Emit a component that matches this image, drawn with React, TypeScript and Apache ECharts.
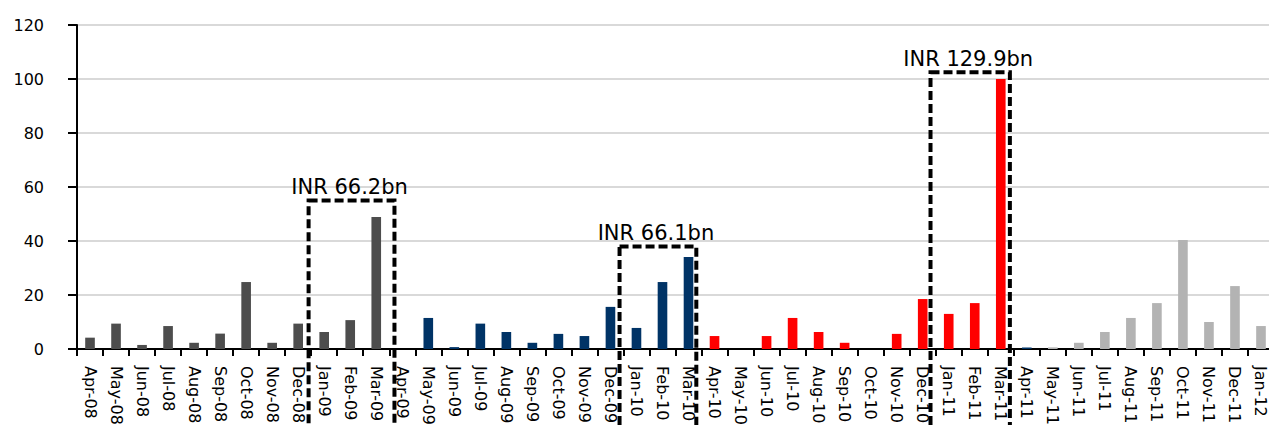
import React, { useEffect, useRef } from "react";
import * as echarts from "echarts";

const months = [
  "Apr-08", "May-08", "Jun-08", "Jul-08", "Aug-08", "Sep-08", "Oct-08", "Nov-08", "Dec-08", "Jan-09", "Feb-09", "Mar-09",
  "Apr-09", "May-09", "Jun-09", "Jul-09", "Aug-09", "Sep-09", "Oct-09", "Nov-09", "Dec-09", "Jan-10", "Feb-10", "Mar-10",
  "Apr-10", "May-10", "Jun-10", "Jul-10", "Aug-10", "Sep-10", "Oct-10", "Nov-10", "Dec-10", "Jan-11", "Feb-11", "Mar-11",
  "Apr-11", "May-11", "Jun-11", "Jul-11", "Aug-11", "Sep-11", "Oct-11", "Nov-11", "Dec-11", "Jan-12",
];

// FY09 (Apr-08 .. Mar-09)
const fy09 = [4.2, 9.4, 1.5, 8.5, 2.3, 5.7, 24.8, 2.3, 9.4, 6.3, 10.7, 48.9];
// FY10 (Apr-09 .. Mar-10)
const fy10 = [0, 11.5, 0.7, 9.4, 6.3, 2.3, 5.6, 4.8, 15.6, 7.8, 24.8, 34.1];
// FY11 (Apr-10 .. Mar-11)
const fy11 = [4.8, 0, 4.8, 11.5, 6.3, 2.3, 0, 5.6, 18.5, 13.0, 17.0, 100.0];
// FY12 (Apr-11 .. Jan-12)
const fy12 = [0.6, 0.6, 2.3, 6.3, 11.5, 17.0, 40.4, 10.0, 23.3, 8.5];

const yTicks = [0, 20, 40, 60, 80, 100, 120];

const boxLabels = ["INR 66.2bn", "INR 66.1bn", "INR 129.9bn"];
const boxTopValues = [55, 38, 102.5];

export default function App() {
  const ref = useRef<HTMLDivElement>(null);

  useEffect(() => {
    if (!ref.current) return;
    const chart = echarts.init(ref.current, null, { renderer: "svg" });

    const periods = [
      { values: fy09, color: "#4d4d4d" },
      { values: fy10, color: "#003366" },
      { values: fy11, color: "#ff0000" },
      { values: fy12, color: "#b3b3b3" },
    ];
    const data: any[] = [];
    periods.forEach((p, pi) => {
      p.values.forEach((v, i) => {
        // first month of FY12 is drawn in navy in the source
        const color = pi === 3 && i === 0 ? "#003366" : p.color;
        data.push({ value: v, itemStyle: { color } });
      });
    });

    const font = "'DejaVu Sans', sans-serif";

    chart.setOption({
      animation: false,
      backgroundColor: "#ffffff",
      grid: { left: 77, top: 25, bottom: 76, right: -5, containLabel: false, outerBoundsMode: "none" },
      xAxis: {
        type: "category",
        data: months,
        boundaryGap: true,
        axisLine: { show: true, lineStyle: { color: "#000", width: 2 } },
        axisTick: { show: true, length: 7, lineStyle: { color: "#000", width: 2 } },
        axisLabel: { interval: 0, rotate: -90, margin: 17, fontSize: 16, color: "#000", fontFamily: font },
        splitLine: { show: false },
      },
      yAxis: {
        type: "value",
        min: yTicks[0],
        max: yTicks[yTicks.length - 1],
        interval: 20,
        axisLine: { show: true, lineStyle: { color: "#000", width: 2 } },
        axisTick: { show: true, length: 9, lineStyle: { color: "#000", width: 2 } },
        axisLabel: { margin: 33, fontSize: 16, color: "#000", fontFamily: font },
        splitLine: { show: true, lineStyle: { color: "#cccccc", width: 1.5 } },
      },
      series: [{ type: "bar", data, barWidth: "37%" }],
    });

    // annotation boxes (in band units from the start of the axis)
    const boxSpans = [
      [8.9, 12.2],
      [20.85, 23.8],
      [32.8, 35.85],
    ];
    const c0 = chart.convertToPixel({ gridIndex: 0 }, [0, 0]) as number[];
    const c1 = chart.convertToPixel({ gridIndex: 0 }, [1, 0]) as number[];
    const band = c1[0] - c0[0];
    const axisStart = c0[0] - band / 2;
    const graphics: any[] = [];
    boxSpans.forEach((span, i) => {
      const x0 = axisStart + span[0] * band;
      const x1 = axisStart + span[1] * band;
      const yTop = (chart.convertToPixel({ gridIndex: 0 }, [0, boxTopValues[i]]) as number[])[1];
      graphics.push({
        type: "rect",
        z: 100,
        shape: { x: x0, y: yTop, width: x1 - x0, height: 500 },
        style: { fill: "none", stroke: "#000", lineWidth: 4, lineDash: [9, 4] },
      });
      graphics.push({
        type: "text",
        z: 101,
        x: (x0 + x1) / 2 - 2,
        y: yTop - 13.5,
        style: { text: boxLabels[i], fontSize: 21, fontFamily: font, fill: "#000", align: "center", verticalAlign: "middle" },
      });
    });
    chart.setOption({ graphic: graphics });

    return () => chart.dispose();
  }, []);

  return (
    <div ref={ref} style={{ position: "absolute", left: 0, top: 0, width: 1269, height: 425, background: "#fff" }} />
  );
}
